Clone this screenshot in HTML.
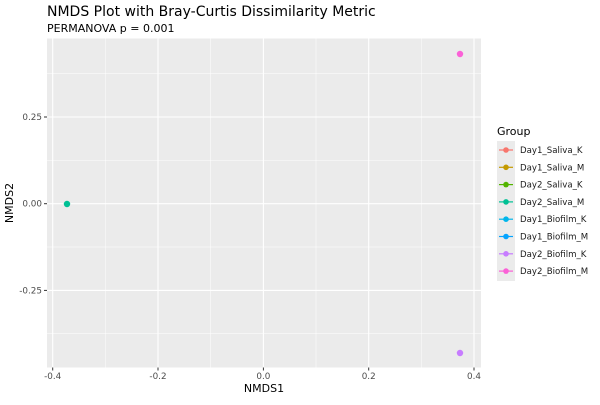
<!DOCTYPE html>
<html><head><style>body{margin:0;background:#fff}</style></head><body>
<svg width="600" height="400" xmlns="http://www.w3.org/2000/svg" font-family="'DejaVu Sans','Liberation Sans',sans-serif">
<rect x="0" y="0" width="600" height="400" fill="#fff"/>
<text x="47" y="16" font-size="14" fill="#000">NMDS Plot with Bray-Curtis Dissimilarity Metric</text>
<text x="47" y="32" font-size="11" fill="#000">PERMANOVA p = 0.001</text>
<rect x="47" y="38.5" width="434" height="329" fill="#ebebeb"/>
<g stroke="#fff" stroke-width="0.5">
<line x1="105.3" y1="38.5" x2="105.3" y2="367.5"/><line x1="210.7" y1="38.5" x2="210.7" y2="367.5"/>
<line x1="316" y1="38.5" x2="316" y2="367.5"/><line x1="421.3" y1="38.5" x2="421.3" y2="367.5"/>
<line x1="47" y1="73.7" x2="481" y2="73.7"/><line x1="47" y1="160.3" x2="481" y2="160.3"/>
<line x1="47" y1="247" x2="481" y2="247"/><line x1="47" y1="333.7" x2="481" y2="333.7"/>
</g>
<g stroke="#fff" stroke-width="1.1">
<line x1="52.7" y1="38.5" x2="52.7" y2="367.5"/><line x1="158" y1="38.5" x2="158" y2="367.5"/>
<line x1="263.4" y1="38.5" x2="263.4" y2="367.5"/><line x1="368.7" y1="38.5" x2="368.7" y2="367.5"/>
<line x1="474" y1="38.5" x2="474" y2="367.5"/>
<line x1="47" y1="117" x2="481" y2="117"/><line x1="47" y1="203.7" x2="481" y2="203.7"/>
<line x1="47" y1="290.4" x2="481" y2="290.4"/>
</g>
<g stroke="#333" stroke-width="1">
<line x1="52.7" y1="367.5" x2="52.7" y2="370.5"/><line x1="158" y1="367.5" x2="158" y2="370.5"/>
<line x1="263.4" y1="367.5" x2="263.4" y2="370.5"/><line x1="368.7" y1="367.5" x2="368.7" y2="370.5"/>
<line x1="474" y1="367.5" x2="474" y2="370.5"/>
<line x1="44" y1="117" x2="47" y2="117"/><line x1="44" y1="203.7" x2="47" y2="203.7"/><line x1="44" y1="290.4" x2="47" y2="290.4"/>
</g>
<g font-size="8.8" fill="#4d4d4d" text-anchor="middle">
<text x="52.7" y="379">-0.4</text><text x="158" y="379">-0.2</text><text x="263.4" y="379">0.0</text>
<text x="368.7" y="379">0.2</text><text x="474" y="379">0.4</text>
</g>
<g font-size="8.8" fill="#4d4d4d" text-anchor="end">
<text x="42" y="120">0.25</text><text x="42" y="206.7">0.00</text><text x="42" y="293.4">-0.25</text>
</g>
<text x="264" y="392" font-size="11" text-anchor="middle">NMDS1</text>
<text transform="translate(13,203) rotate(-90)" font-size="11" text-anchor="middle">NMDS2</text>
<circle cx="67" cy="204" r="3.2" fill="#00C094"/>
<circle cx="460" cy="54" r="3.2" fill="#FB61D7"/>
<circle cx="460" cy="353" r="3.2" fill="#C77CFF"/>
<text x="497" y="135" font-size="11">Group</text>
<rect x="497" y="141" width="18" height="140" fill="#ebebeb"/>
<g font-size="8.6" fill="#1a1a1a">
<g stroke-width="1.2">
<line x1="499" y1="150" x2="513" y2="150" stroke="#F8766D"/><circle cx="506" cy="150" r="2.8" fill="#F8766D"/>
<line x1="499" y1="167.3" x2="513" y2="167.3" stroke="#C49A00"/><circle cx="506" cy="167.3" r="2.8" fill="#C49A00"/>
<line x1="499" y1="184.6" x2="513" y2="184.6" stroke="#53B400"/><circle cx="506" cy="184.6" r="2.8" fill="#53B400"/>
<line x1="499" y1="201.9" x2="513" y2="201.9" stroke="#00C094"/><circle cx="506" cy="201.9" r="2.8" fill="#00C094"/>
<line x1="499" y1="219.2" x2="513" y2="219.2" stroke="#00B6EB"/><circle cx="506" cy="219.2" r="2.8" fill="#00B6EB"/>
<line x1="499" y1="236.5" x2="513" y2="236.5" stroke="#06A4FF"/><circle cx="506" cy="236.5" r="2.8" fill="#06A4FF"/>
<line x1="499" y1="253.8" x2="513" y2="253.8" stroke="#C77CFF"/><circle cx="506" cy="253.8" r="2.8" fill="#C77CFF"/>
<line x1="499" y1="271.1" x2="513" y2="271.1" stroke="#FB61D7"/><circle cx="506" cy="271.1" r="2.8" fill="#FB61D7"/>
</g>
<text x="520" y="153">Day1_Saliva_K</text>
<text x="520" y="170.3">Day1_Saliva_M</text>
<text x="520" y="187.6">Day2_Saliva_K</text>
<text x="520" y="204.9">Day2_Saliva_M</text>
<text x="520" y="222.2">Day1_Biofilm_K</text>
<text x="520" y="239.5">Day1_Biofilm_M</text>
<text x="520" y="256.8">Day2_Biofilm_K</text>
<text x="520" y="274.1">Day2_Biofilm_M</text>
</g>
</svg>
</body></html>
